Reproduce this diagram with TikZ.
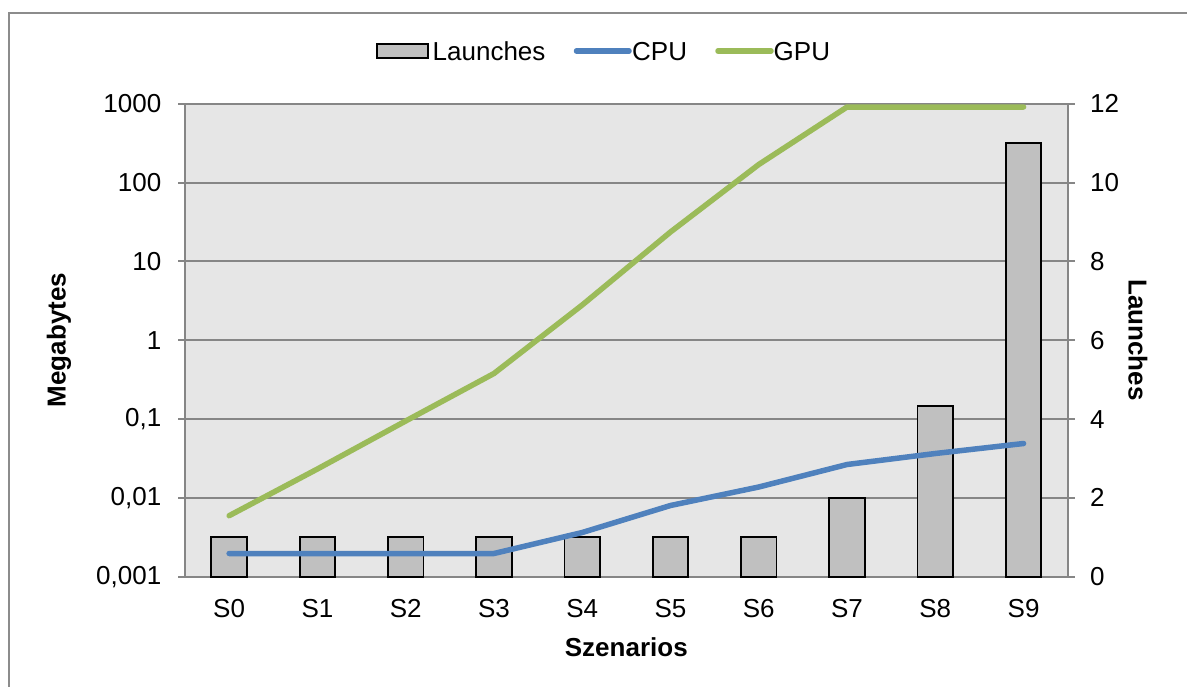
\documentclass[tikz,border=0pt]{standalone}
\usepackage{fontspec}
\setmainfont{Liberation Sans}
\definecolor{cpublue}{HTML}{4F81BD}
\definecolor{gpugreen}{HTML}{9BBB59}
\definecolor{barfill}{HTML}{C0C0C0}
\definecolor{plotbg}{HTML}{E6E6E6}
\definecolor{gridgray}{HTML}{868686}
\definecolor{framegray}{HTML}{8C8C8C}
\tikzset{
  lbl/.style={font=\fontsize{26}{30}\selectfont, inner sep=0pt},
  ttl/.style={font=\bfseries\fontsize{26}{30}\selectfont, inner sep=0pt},
  gridline/.style={draw=gridgray, line width=1.9pt},
  bar/.style={draw=black, fill=barfill, line width=1.8pt},
  cpuline/.style={draw=cpublue, line width=5.5pt, line cap=round, line join=round},
  gpuline/.style={draw=gpugreen, line width=5.5pt, line cap=round, line join=round},
}
\begin{document}
\begin{tikzpicture}[x=1pt,y=-1pt]
\useasboundingbox (0,0) rectangle (1187,686);
\clip (0,0) rectangle (1187,686);
\fill[white] (0,0) rectangle (1187,686);
% chart frame
\draw[framegray, line width=2pt] (9,13) rectangle (1210,710);

% plot area
\def\pl{185} \def\pr{1067.7} \def\pt{103.8} \def\pb{576.7}
\fill[plotbg] (\pl,\pt) rectangle (\pr,\pb);

% horizontal grid, ticks and labels (log axis left, linear axis right)
\foreach \i/\lv/\rv in {0/0{,}001/0, 1/0{,}01/2, 2/0{,}1/4, 3/1/6, 4/10/8, 5/100/10, 6/1000/12}{
  \pgfmathsetmacro{\yy}{\pb-78.82*\i}
  \draw[gridline] (178,\yy) -- (1075,\yy);
  \node[lbl, anchor=east] (l\i) at (161.5,\yy) {\lv};
  \node[lbl, anchor=west] (r\i) at (1090,\yy) {\rv};
}
\draw[gridline] (\pl,\pt) -- (\pl,\pb);
\draw[gridline] (\pr,\pt) -- (\pr,\pb);

% bars (Launches, right axis)
\foreach \i/\v in {0/1, 1/1, 2/1, 3/1, 4/1, 5/1, 6/1, 7/2, 8/4.34, 9/11}{
  \pgfmathsetmacro{\cx}{\pl+88.27*(\i+0.5)}
  \pgfmathsetmacro{\top}{\pb-39.41*\v}
  \draw[bar] (\cx-17.8,\pb) rectangle (\cx+17.8,\top);
  \node[lbl] (s\i) at (\cx,609) {S\i};
}

% data points of the two series
\foreach \i/\c/\g in {0/553.5/515.7, 1/553.5/469, 2/553.5/421, 3/553.5/373.5, 4/532.5/305,
                      5/505.5/232, 6/487/164.5, 7/464.5/107, 8/453.5/107, 9/443.5/107}{
  \pgfmathsetmacro{\cx}{\pl+88.27*(\i+0.5)}
  \coordinate (c\i) at (\cx,\c);
  \coordinate (g\i) at (\cx,\g);
}
\draw[cpuline] (c0) -- (c1) -- (c2) -- (c3) -- (c4) -- (c5) -- (c6) -- (c7) -- (c8) -- (c9);
\draw[gpuline] (g0) -- (g1) -- (g2) -- (g3) -- (g4) -- (g5) -- (g6) -- (g7) -- (g8) -- (g9);

% axis titles
\node[ttl] (xt) at (626.3,647) {Szenarios};
\node[ttl, rotate=90] (yl) at (59,340) {Megabytes};
\node[ttl, rotate=-90] (yr) at (1138,340) {Launches};

% legend
\draw[bar] (376.7,44) rectangle (428.3,58.3);
\node[lbl, anchor=west] (legL) at (432.5,51.5) {Launches};
\coordinate (cpuA) at (576.5,51);
\coordinate (cpuB) at (629,51);
\draw[cpuline] (cpuA) -- (cpuB);
\node[lbl, anchor=west] (legC) at (632,51.5) {CPU};
\coordinate (gpuA) at (718,51);
\coordinate (gpuB) at (771,51);
\draw[gpuline] (gpuA) -- (gpuB);
\node[lbl, anchor=west] (legG) at (773.5,51.5) {GPU};
\end{tikzpicture}
\end{document}
